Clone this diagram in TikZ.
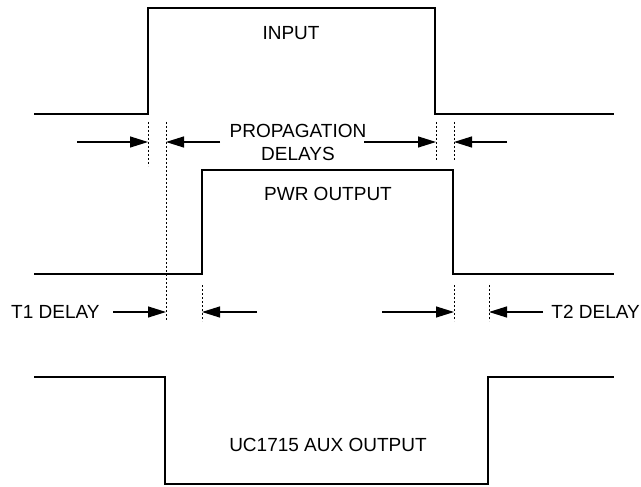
\documentclass[tikz,border=0pt]{standalone}
\usepackage{fontspec}
\setmainfont{Liberation Sans}
\usetikzlibrary{arrows.meta}
\begin{document}
\begin{tikzpicture}[x=1pt,y=-1pt,
  wave/.style={line width=2pt, line join=miter},
  guide/.style={line width=1pt, dash pattern=on 2pt off 2pt},
  dimarrow/.style={line width=1.2pt, -{Triangle[length=18pt,width=11pt]}},
  lbl/.style={font=\fontsize{19}{23}\selectfont, inner sep=0pt, align=center}]
\useasboundingbox (0,0) rectangle (641,487);
% waveforms
\draw[wave] (34,114) -- (148,114) -- (148,8) -- (435,8) -- (435,114) -- (614,114);
\draw[wave] (34,274) -- (202,274) -- (202,170) -- (453,170) -- (453,274) -- (614,274);
\draw[wave] (34,377) -- (165,377) -- (165,484) -- (488,484) -- (488,377) -- (614,377);
% labels
\node[lbl] (input) at (291,33) {INPUT};
\node[lbl] (prop) at (298,142) {PROPAGATION\\DELAYS};
\node[lbl] (pwr) at (328,194) {PWR OUTPUT};
\node[lbl] (aux) at (328,445) {UC1715 AUX OUTPUT};
\node[lbl, anchor=west] (t1) at (11,312) {T1 DELAY};
\node[lbl, anchor=east] (t2) at (640,312) {T2 DELAY};
% guide lines
\draw[guide] (148,122) -- (148,166);
\draw[guide] (166,122) -- (166,321);
\draw[guide] (436,122) -- (436,160);
\draw[guide] (454,122) -- (454,160);
\draw[guide] (202,285) -- (202,321);
\draw[guide] (454,285) -- (454,321);
\draw[guide] (489,285) -- (489,321);
% arrow coordinates
\coordinate (pa1) at (77,142);  \coordinate (pe1) at (148,142);
\coordinate (pa2) at (220,142); \coordinate (pe2) at (166,142);
\coordinate (pa3) at (364,142); \coordinate (pe3) at (436,142);
\coordinate (pa4) at (507,142); \coordinate (pe4) at (454,142);
\coordinate (ta1) at (113,312); \coordinate (te1) at (166,312);
\coordinate (ta2) at (257,312); \coordinate (te2) at (202,312);
\coordinate (ta3) at (382,312); \coordinate (te3) at (454,312);
\coordinate (ta4) at (543,312); \coordinate (te4) at (489,312);
\draw[dimarrow] (pa1) -- (pe1);
\draw[dimarrow] (pa2) -- (pe2);
\draw[dimarrow] (pa3) -- (pe3);
\draw[dimarrow] (pa4) -- (pe4);
\draw[dimarrow] (ta1) -- (te1);
\draw[dimarrow] (ta2) -- (te2);
\draw[dimarrow] (ta3) -- (te3);
\draw[dimarrow] (ta4) -- (te4);
\end{tikzpicture}
\end{document}
